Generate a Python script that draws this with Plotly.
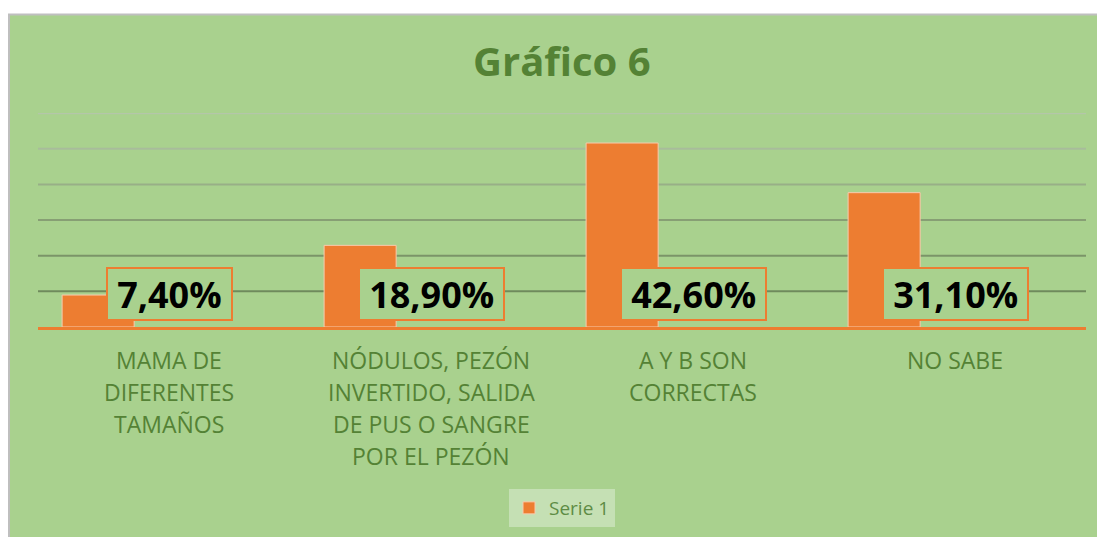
import plotly.graph_objects as go

categories = [
    "MAMA DE<br>DIFERENTES<br>TAMAÑOS",
    "NÓDULOS, PEZÓN<br>INVERTIDO, SALIDA<br>DE PUS O SANGRE<br>POR EL PEZÓN",
    "A Y B SON<br>CORRECTAS",
    "NO SABE",
]
values = [7.4, 18.9, 42.6, 31.1]
labels = ["7,40%", "18,90%", "42,60%", "31,10%"]
series_name = "Serie 1"
title_text = "Gráfico 6"

GREEN = "#A9D18E"
DARK_GREEN = "#548235"
ORANGE = "#ED7D31"

y_step = 8.25
n_grid = 6
y_max = y_step * n_grid
grid_colors = ["#6F8A5C", "#7B9468", "#879F74", "#98AF87", "#A8BC9B", "#B4C6A9"]

# page body has an 8px margin; work in reference pixel coords minus 8
OFF = 8
W, H = 1105 - OFF, 537 - OFF
plot_left, plot_right, plot_top, plot_bottom = 38 - OFF, 1086 - OFF, 113 - OFF, 328 - OFF
L, R, T, B = plot_left, W - plot_right, plot_top, H - plot_bottom
pw = plot_right - plot_left
ph = plot_bottom - plot_top

LABEL_SIZE = 36
CHAR_W = {",": 0.29, "%": 0.85}


def label_box_width(s):
    em = sum(CHAR_W.get(c, 0.572) for c in s)
    return em * LABEL_SIZE + 18


def py(pix):
    """reference pixel y -> paper coordinate"""
    return (plot_bottom - (pix - OFF)) / ph


def px(pix):
    return ((pix - OFF) - plot_left) / pw


fig = go.Figure()
x_idx = list(range(len(categories)))
fig.add_trace(go.Bar(
    x=x_idx, y=values, name=series_name,
    marker=dict(color=ORANGE, line=dict(color="#F8CBAD", width=1)),
    width=0.275, offset=-0.408,
    showlegend=True,
))

shapes = [dict(type="rect", xref="paper", yref="paper",
               x0=px(9), x1=px(1120), y0=py(560), y1=py(14),
               fillcolor=GREEN, line=dict(color="#BFBFBF", width=2), layer="below")]
for i in range(1, n_grid + 1):
    shapes.append(dict(type="line", xref="paper", yref="y", x0=0, x1=1,
                       y0=i * y_step, y1=i * y_step,
                       line=dict(color=grid_colors[i - 1], width=2), layer="below"))

annotations = []
for i, lab in enumerate(labels):
    annotations.append(dict(
        x=i, y=py(294.5), xref="x", yref="paper", text=lab, showarrow=False,
        font=dict(family="Open Sans", size=LABEL_SIZE, color="black", weight="bold"),
        bgcolor=GREEN, bordercolor=ORANGE, borderwidth=2, borderpad=1,
        width=label_box_width(lab), height=48,
        xanchor="center", yanchor="middle",
    ))
for i, cat in enumerate(categories):
    for j, line in enumerate(cat.split("<br>")):
        annotations.append(dict(
            x=i, y=0, xref="x", yref="paper", text=line, showarrow=False,
            font=dict(family="Open Sans", size=23, color=DARK_GREEN),
            xanchor="center", yanchor="middle", yshift=-(33 + 32 * j),
        ))
annotations.append(dict(
    x=0.5, y=py(60), xref="paper", yref="paper", text=title_text, showarrow=False,
    font=dict(family="Open Sans", size=40, color=DARK_GREEN, weight="bold"),
    xanchor="center", yanchor="middle",
))

fig.update_layout(
    width=W, height=H,
    margin=dict(l=L, r=R, t=T, b=B, pad=0),
    paper_bgcolor="white", plot_bgcolor="rgba(0,0,0,0)",
    shapes=shapes, annotations=annotations,
    xaxis=dict(range=[-0.5, len(categories) - 0.5], showticklabels=False, showgrid=False,
               zeroline=False, showline=True, linecolor=ORANGE, linewidth=3, ticks=""),
    yaxis=dict(range=[0, y_max + 0.05], showticklabels=False, showgrid=False,
               zeroline=False, showline=False),
    legend=dict(orientation="h", x=px(562), xanchor="center", y=py(508), yanchor="middle",
                bgcolor="#C5E0B4", font=dict(family="Open Sans", size=19, color="#5E8C45"),
                itemwidth=30, borderwidth=0),
    showlegend=True,
)

fig.write_html("out.html")
